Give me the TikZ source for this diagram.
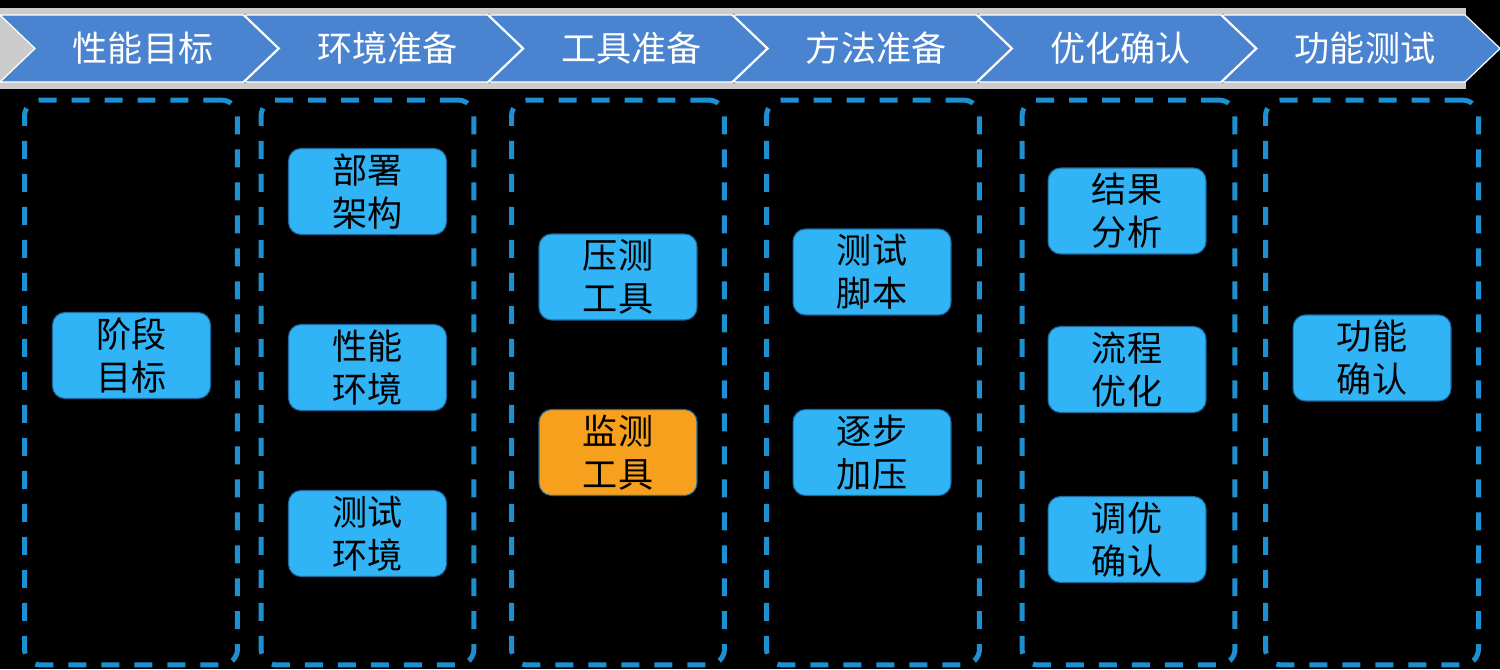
\documentclass[tikz,border=0pt]{standalone}
\usepackage{fontspec}
\setmainfont{Noto Sans CJK SC}
\usetikzlibrary{positioning, backgrounds}
\definecolor{chevblue}{RGB}{74,132,208}
\definecolor{boxblue}{RGB}{48,180,246}
\definecolor{boxedge}{RGB}{30,105,160}
\definecolor{dashblue}{RGB}{30,143,208}
\definecolor{monorange}{RGB}{246,160,30}

\begin{document}
\begin{tikzpicture}[
    x=0.02cm, y=-0.02cm,
    stage/.style={text=white, font=\fontsize{20}{24}\selectfont},
    frame/.style={draw=dashblue, line width=0.1cm, rounded corners=0.32cm, dash pattern=on 0.36cm off 0.3cm,
        minimum width=4.26cm, minimum height=11.3cm, inner sep=0pt},
    task/.style={draw=boxedge, line width=0.6pt, fill=boxblue, rounded corners=0.25cm,
        minimum width=3.16cm, minimum height=1.72cm, inner sep=0pt, align=center,
        font=\fontsize{20}{24.5}\selectfont}
]
\fill[black] (0,0) rectangle (1500,669);
\useasboundingbox (0,0) rectangle (1500,669);
% header chevrons
\fill[black!20] (0,8) rectangle (1466,89);
\foreach \i in {0,...,4}{
    \draw[black, line width=0.08cm] ({244.4*\i+243.7},15) -- ({244.4*\i+278.7},48.5) -- ({244.4*\i+243.7},82);
}
\foreach \i/\name/\txt in {0/s1/性能目标, 1/s2/环境准备, 2/s3/工具准备, 3/s4/方法准备, 4/s5/优化确认, 5/s6/功能测试}{
    \draw[white, line width=0.7pt, fill=chevblue] ({244.4*\i},15) -- ({244.4*\i+243},15) -- ({244.4*\i+278},48.5)
        -- ({244.4*\i+243},82) -- ({244.4*\i},82) -- ({244.4*\i+35},48.5) -- cycle;
    \node[stage] (\name) at ({244.4*\i+143},48.5) {\txt};
}
% dashed frames
\node[frame] (F1) at (131,382.5) {};
\node[frame] (F2) at (367.5,382.5) {};
\node[frame] (F3) at (618,382.5) {};
\node[frame] (F4) at (873,382.5) {};
\node[frame] (F5) at (1128.5,382.5) {};
\node[frame] (F6) at (1372,382.5) {};
% tasks
\node[task] (T11) at (131.5,355.5) {阶段\\目标};
\node[task] (T21) at (367.5,191.5) {部署\\架构};
\node[task] (T22) at (367.5,367.5) {性能\\环境};
\node[task] (T23) at (367.5,533.5) {测试\\环境};
\node[task] (T31) at (618,277) {压测\\工具};
\node[task, fill=monorange] (T32) at (618,452.5) {监测\\工具};
\node[task] (T41) at (872,272) {测试\\脚本};
\node[task] (T42) at (872,452.5) {逐步\\加压};
\node[task] (T51) at (1127,211) {结果\\分析};
\node[task] (T52) at (1127,369.5) {流程\\优化};
\node[task] (T53) at (1127,539.5) {调优\\确认};
\node[task] (T61) at (1372,358) {功能\\确认};
\end{tikzpicture}
\end{document}
